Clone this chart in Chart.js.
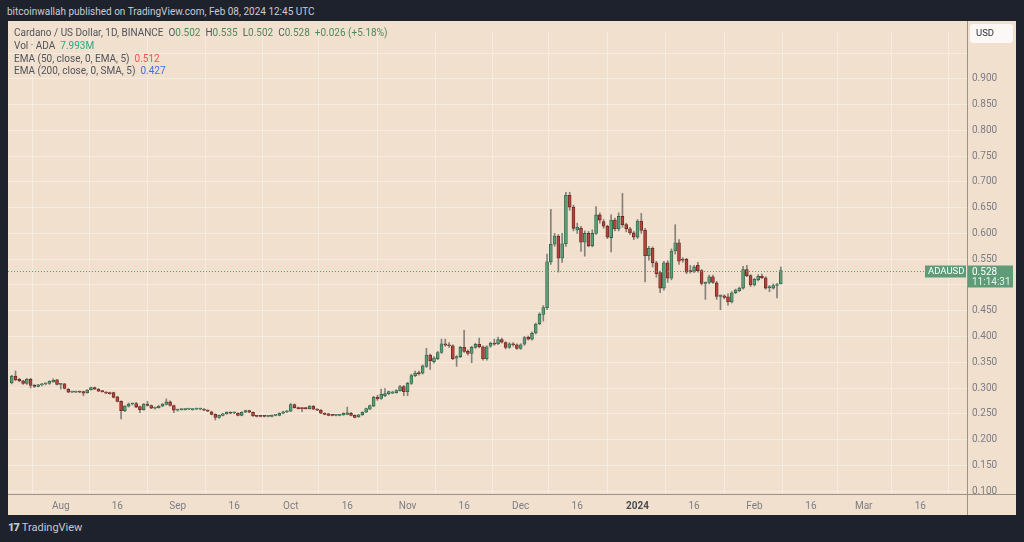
<!DOCTYPE html>
<html>
<head>
<meta charset="utf-8">
<script src="https://cdn.jsdelivr.net/npm/chart.js@4.4.1/dist/chart.umd.min.js"></script>
<style>
  html, body { margin: 0; padding: 0; }
  body { width: 1024px; height: 542px; background: #1e222d; position: relative; overflow: hidden;
         font-family: Roboto, "Liberation Sans", Arial, sans-serif; }
  #topline { position: absolute; left: 7px; top: 6px; font-size: 10px; color: #c9ccd3; white-space: nowrap; }
  #panel { position: absolute; left: 8px; top: 21px; width: 1008px; height: 494px; background: #f2e0ce; }
  #legend { position: absolute; left: 14px; top: 27px; font-size: 10px; line-height: 12.8px; color: #50545c; white-space: nowrap; }
  #legend .g { color: #4a8a5e; }
  #footer { position: absolute; left: 8px; top: 521px; font-size: 11px; color: #c5c8ce; white-space: nowrap; }
  #footer b { font-weight: 900; letter-spacing: -1px; margin-right: 3px; }
</style>
</head>
<body>
<div id="topline">bitcoinwallah published on TradingView.com, Feb 08, 2024 12:45 UTC</div>
<div id="panel"><canvas id="chart" width="1008" height="494"></canvas></div>
<div id="legend">
  <div>Cardano / US Dollar, 1D, BINANCE&nbsp;&nbsp;O<span class="g">0.502</span>&nbsp;&nbsp;H<span class="g">0.535</span>&nbsp;&nbsp;L<span class="g">0.502</span>&nbsp;&nbsp;C<span class="g">0.528</span>&nbsp;&nbsp;<span class="g">+0.026 (+5.18%)</span></div>
  <div>Vol · ADA&nbsp;&nbsp;<span style="color:#2aa58a">7.993M</span></div>
  <div>EMA (50, close, 0, EMA, 5)&nbsp;&nbsp;<span style="color:#ef5350">0.512</span></div>
  <div>EMA (200, close, 0, SMA, 5)&nbsp;&nbsp;<span style="color:#3d6ef0">0.427</span></div>
</div>
<div id="footer"><b>17</b>TradingView</div>

<script>
// ====== Datos diarios ADA/USD (19 jul 2023 -> 8 feb 2024) ======
const firstDay = -13; // dias desde 1 ago 2023

const open = [
  .310,.323,.317,.314,.309,.317,.305,.303,.306,.308,
  .309,.312,.316,.307,.308,.298,.292,.292,.293,.293,
  .291,.297,.301,.298,.294,.292,.291,.291,.283,.274,
  .256,.265,.269,.270,.264,.258,.269,.266,.261,.262,
  .265,.268,.273,.266,.257,.258,.258,.259,.258,.259,
  .259,.259,.257,.254,.249,.243,.247,.250,.253,.252,
  .251,.247,.253,.256,.253,.246,.246,.246,.245,.245,
  .247,.247,.251,.254,.255,.268,.262,.261,.261,.260,
  .265,.259,.257,.251,.250,.248,.247,.247,.248,.249,
  .251,.247,.244,.248,.253,.259,.265,.282,.280,.285,
  .289,.290,.291,.295,.303,.293,.309,.324,.330,.329,
  .342,.364,.351,.357,.369,.386,.384,.382,.358,.361,
  .379,.371,.367,.379,.385,.380,.357,.381,.387,.386,
  .394,.388,.379,.386,.384,.377,.385,.399,.395,.407,
  .425,.443,.456,.545,.579,.595,.552,.580,.674,.651,
  .607,.610,.583,.600,.576,.600,.636,.623,.614,.592,
  .626,.609,.633,.617,.609,.601,.593,.624,.606,.557,
  .571,.543,.524,.494,.543,.513,.566,.582,.550,.550,
  .527,.527,.538,.528,.503,.505,.516,.504,.478,.479,
  .477,.467,.485,.489,.494,.530,.518,.500,.510,.517,
  .514,.495,.494,.499,.502
];
const high = [
  .325,.333,.319,.315,.319,.319,.307,.307,.309,.310,
  .314,.318,.317,.309,.309,.299,.294,.294,.294,.294,
  .297,.302,.302,.299,.295,.293,.292,.292,.284,.275,
  .266,.271,.271,.272,.265,.270,.274,.267,.263,.266,
  .270,.279,.275,.267,.259,.259,.260,.260,.260,.261,
  .261,.260,.258,.255,.250,.248,.251,.254,.254,.253,
  .252,.254,.257,.257,.254,.247,.247,.247,.247,.248,
  .248,.252,.255,.256,.270,.269,.263,.262,.262,.266,
  .266,.260,.258,.252,.251,.249,.249,.249,.252,.263,
  .253,.248,.249,.254,.261,.267,.284,.286,.298,.299,
  .294,.294,.297,.305,.305,.311,.327,.333,.333,.345,
  .377,.366,.361,.371,.395,.395,.388,.384,.363,.381,
  .412,.374,.381,.387,.397,.382,.382,.389,.395,.399,
  .397,.390,.388,.388,.386,.386,.400,.401,.409,.426,
  .446,.460,.560,.647,.600,.598,.600,.680,.680,.655,
  .620,.614,.605,.604,.607,.652,.640,.627,.616,.636,
  .630,.640,.678,.620,.612,.604,.627,.639,.610,.575,
  .574,.546,.527,.546,.547,.570,.617,.588,.553,.552,
  .538,.538,.544,.530,.506,.519,.519,.507,.481,.481,
  .483,.487,.492,.496,.536,.538,.520,.513,.520,.521,
  .516,.499,.502,.503,.535
];
const low = [
  .308,.314,.312,.307,.307,.300,.301,.302,.304,.306,
  .307,.311,.306,.298,.298,.291,.291,.291,.291,.285,
  .290,.296,.297,.293,.292,.289,.288,.281,.273,.240,
  .254,.263,.267,.262,.252,.257,.265,.260,.259,.261,
  .264,.267,.265,.252,.255,.257,.257,.258,.257,.258,
  .258,.256,.254,.248,.238,.241,.246,.249,.250,.250,
  .246,.246,.252,.252,.245,.244,.244,.244,.244,.244,
  .246,.246,.250,.252,.254,.261,.259,.254,.259,.259,
  .258,.256,.250,.248,.246,.246,.246,.246,.247,.248,
  .246,.242,.243,.247,.252,.258,.264,.276,.278,.283,
  .287,.289,.290,.294,.285,.285,.307,.322,.325,.327,
  .340,.336,.348,.355,.367,.381,.379,.355,.342,.359,
  .369,.364,.349,.377,.378,.354,.354,.379,.383,.384,
  .387,.376,.377,.381,.375,.375,.383,.393,.393,.405,
  .423,.430,.452,.540,.575,.525,.544,.575,.645,.605,
  .600,.565,.556,.574,.574,.598,.620,.610,.590,.564,
  .605,.605,.612,.603,.598,.588,.590,.600,.506,.548,
  .535,.515,.485,.490,.505,.510,.560,.540,.544,.522,
  .523,.524,.525,.500,.472,.502,.503,.472,.452,.473,
  .461,.465,.483,.487,.492,.516,.497,.498,.508,.512,
  .492,.487,.492,.475,.502
];
const close = [
  .323,.316,.314,.309,.317,.305,.303,.306,.308,.309,
  .313,.315,.307,.308,.299,.292,.293,.293,.292,.290,
  .296,.301,.298,.294,.293,.290,.289,.282,.274,.256,
  .265,.269,.270,.263,.258,.269,.266,.261,.262,.265,
  .269,.273,.266,.257,.258,.2585,.259,.259,.259,.260,
  .260,.257,.255,.249,.243,.247,.250,.253,.251,.252,
  .247,.253,.256,.253,.246,.245,.245,.245,.246,.247,
  .247,.251,.254,.255,.268,.262,.260,.260,.260,.265,
  .259,.257,.251,.249,.247,.247,.248,.248,.251,.252,
  .247,.243,.248,.253,.260,.266,.282,.279,.288,.289,
  .293,.292,.295,.303,.293,.309,.324,.329,.328,.343,
  .364,.353,.358,.369,.386,.383,.382,.357,.361,.379,
  .371,.367,.379,.385,.380,.357,.380,.387,.385,.394,
  .389,.379,.386,.384,.377,.384,.398,.395,.406,.424,
  .443,.456,.545,.579,.595,.552,.580,.674,.651,.610,
  .612,.583,.600,.576,.600,.636,.626,.614,.593,.626,
  .609,.633,.617,.609,.601,.593,.624,.606,.557,.571,
  .543,.522,.494,.543,.513,.566,.582,.546,.548,.525,
  .526,.535,.528,.503,.503,.516,.505,.478,.479,.476,
  .467,.485,.490,.494,.530,.518,.500,.511,.517,.514,
  .494,.497,.499,.501,.528
];

// ====== Ejes ======
const tickDays = [0, 15, 31, 46, 61, 76, 92, 107, 122, 137, 153, 168, 184, 199, 213, 228];
const tickLabels = ['Aug','16','Sep','16','Oct','16','Nov','16','Dec','16','2024','16','Feb','16','Mar','16'];
const priceTicks = [0.1,0.15,0.2,0.25,0.3,0.35,0.4,0.45,0.5,0.55,0.6,0.65,0.7,0.75,0.8,0.85,0.9,0.95];

const lastClose = close[close.length - 1];
const upFill = '#5a9e78', upBorder = '#2f6347';
const downFill = '#b3443a', downBorder = '#6b2520';
const fontFam = 'Roboto, "Liberation Sans", Arial, sans-serif';

const days = open.map((_, i) => firstDay + i);
const isUp = open.map((o, i) => close[i] >= o);

// ====== Etiquetas a la derecha (precio actual, USD) ======
const overlay = {
  id: 'overlay',
  afterDraw(chart) {
    const ctx = chart.ctx;
    const a = chart.chartArea;
    const y = Math.round(chart.scales.y.getPixelForValue(lastClose)) + 0.5;
    ctx.save();
    // separadores de ejes
    ctx.strokeStyle = '#9c9288';
    ctx.lineWidth = 1;
    ctx.beginPath();
    ctx.moveTo(a.right + 0.5, 0); ctx.lineTo(a.right + 0.5, chart.height);
    ctx.moveTo(0, a.bottom + 0.5); ctx.lineTo(chart.width, a.bottom + 0.5);
    ctx.stroke();
    // linea punteada del precio
    ctx.strokeStyle = '#5a9e78';
    ctx.setLineDash([1, 2]);
    ctx.beginPath();
    ctx.moveTo(a.left, y); ctx.lineTo(a.right - 42, y);
    ctx.stroke();
    ctx.setLineDash([]);
    // caja ADAUSD
    ctx.fillStyle = '#5e9c78';
    ctx.fillRect(a.right - 42, y - 6, 41, 12);
    ctx.fillStyle = '#ffffff';
    ctx.font = '9.5px ' + fontFam;
    ctx.textBaseline = 'middle';
    ctx.textAlign = 'left';
    ctx.fillText('ADAUSD', a.right - 39, y + 0.5);
    // caja de precio
    ctx.fillStyle = '#5e9c78';
    ctx.fillRect(a.right + 1, y - 6, 45, 22);
    ctx.fillStyle = '#ffffff';
    ctx.font = '10px ' + fontFam;
    ctx.fillText(lastClose.toFixed(3), a.right + 5, y + 0.5);
    ctx.fillStyle = '#e6f0ea';
    ctx.fillText('11:14:31', a.right + 5, y + 11);
    // caja USD
    ctx.fillStyle = '#fbf8f5';
    ctx.beginPath();
    ctx.roundRect(a.right + 3, 3, 43, 19, 3);
    ctx.fill();
    ctx.fillStyle = '#2a2e39';
    ctx.font = '9.5px ' + fontFam;
    ctx.fillText('USD', a.right + 9, 13);
    ctx.restore();
  }
};

// ====== Grafico de velas ======
const ctxChart = document.getElementById('chart').getContext('2d');
const chart = new Chart(ctxChart, {
  type: 'bar',
  data: {
    datasets: [{
      label: 'Cuerpo',
      data: days.map((d, i) => ({ x: d, y: [open[i], close[i]] })),
      backgroundColor: isUp.map(u => u ? upFill : downFill),
      borderColor: isUp.map(u => u ? upBorder : downBorder),
      borderWidth: 0.8,
      borderSkipped: false,
      barThickness: 3,
      minBarLength: 1,
      grouped: false,
      order: 0
    }, {
      label: 'Mecha',
      data: days.map((d, i) => ({ x: d, y: [low[i], high[i]] })),
      backgroundColor: '#85817c',
      barThickness: 1,
      grouped: false,
      order: 1
    }]
  },
  options: {
    responsive: false,
    animation: false,
    devicePixelRatio: 1,
    layout: { padding: 0 },
    plugins: { legend: { display: false }, tooltip: { enabled: false } },
    scales: {
      x: {
        type: 'linear',
        position: 'bottom',
        min: -14,
        max: 240.4,
        offset: false,
        afterBuildTicks: s => { s.ticks = tickDays.map(v => ({ value: v })); },
        afterFit: s => { s.height = 21; },
        grid: { color: 'rgba(255,255,255,0.35)', drawTicks: false },
        border: { display: false },
        ticks: {
          padding: 6,
          maxRotation: 0,
          autoSkip: false,
          color: ctx => ctx.tick && ctx.tick.value === 153 ? '#4a4d55' : '#7b7d84',
          font: ctx => ({ size: 10, weight: ctx.tick && ctx.tick.value === 153 ? 'bold' : 'normal', family: fontFam }),
          callback: v => tickLabels[tickDays.indexOf(v)]
        }
      },
      y: {
        type: 'linear',
        position: 'right',
        min: 0.09431,
        max: 0.991,
        afterBuildTicks: s => { s.ticks = priceTicks.map(v => ({ value: v })); },
        afterFit: s => { s.width = 49; },
        grid: { color: 'rgba(255,255,255,0.35)', drawTicks: false },
        border: { display: false },
        ticks: {
          padding: 5,
          crossAlign: 'near',
          color: '#7b7d84',
          font: { size: 10, family: fontFam },
          callback: v => v > 0.92 ? '' : v.toFixed(3)
        }
      }
    }
  },
  plugins: [overlay]
});
</script>
</body>
</html>
